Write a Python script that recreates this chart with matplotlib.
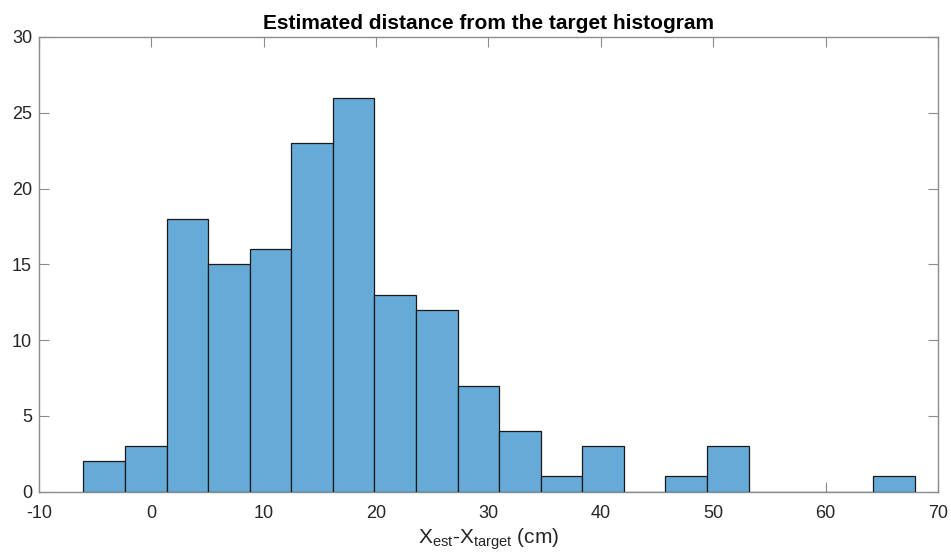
import numpy as np
import matplotlib
matplotlib.use("Agg")
import matplotlib.pyplot as plt

plt.rcParams['font.family'] = ['Liberation Sans', 'DejaVu Sans']
plt.rcParams['mathtext.default'] = 'regular'
plt.rcParams['axes.unicode_minus'] = False

# histogram data (bin edges and counts)
bin_start = -6.05
bin_width = 3.7
counts = [2, 3, 18, 15, 16, 23, 26, 13, 12, 7, 4, 1, 3, 0, 1, 3, 0, 0, 0, 1]
edges = bin_start + bin_width * np.arange(len(counts) + 1)

xticks = [-10, 0, 10, 20, 30, 40, 50, 60, 70]
yticks = [0, 5, 10, 15, 20, 25, 30]

fig = plt.figure(figsize=(9.51, 5.58), dpi=100)
ax = fig.add_axes([0.041, 0.119, 0.9453, 0.8147])

# bars on top of the spines so empty bins still show their black baseline
ax.bar(edges[:-1], counts, width=bin_width, align="edge",
       facecolor="#66aad7", edgecolor="#1a1a1a", linewidth=0.9, zorder=3)

ax.set_xlim(-10, 70)
ax.set_ylim(0, 30)
ax.set_xticks(xticks)
ax.set_yticks(yticks)

for s in ax.spines.values():
    s.set_color("#8c8c8c")
    s.set_linewidth(1.0)
ax.tick_params(direction="in", length=7, width=0.8, color="#8c8c8c",
               labelsize=13, labelcolor="#262626", top=True, right=True)
ax.tick_params(axis="x", pad=10)
ax.tick_params(axis="y", pad=5)

ax.set_title("Estimated distance from the target histogram",
             fontsize=15, fontweight="bold", pad=6)
ax.set_xlabel("X$_{est}$-X$_{target}$ (cm)", fontsize=15, color="#262626", labelpad=3)

fig.savefig("out.png", dpi=100)
